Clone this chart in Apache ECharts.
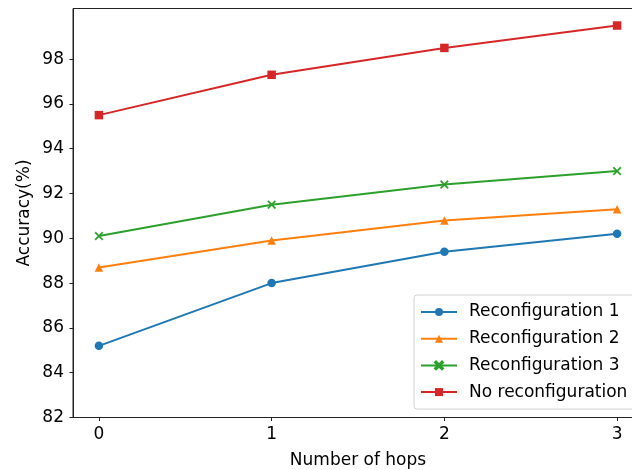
<!DOCTYPE html>
<html>
<head>
<meta charset="utf-8">
<script src="https://cdn.jsdelivr.net/npm/echarts@6/dist/echarts.min.js"></script>
<style>
html,body{margin:0;padding:0;background:#fff;}
#chart{width:632px;height:470px;}
</style>
</head>
<body>
<div id="chart"></div>
<script>
var hops = [0, 1, 2, 3];
var xTicks = [0, 1, 2, 3];
var yTicks = [82, 84, 86, 88, 90, 92, 94, 96, 98];
var seriesNames = ['Reconfiguration 1', 'Reconfiguration 2', 'Reconfiguration 3', 'No reconfiguration'];
var reconf1 = [85.2, 88.0, 89.4, 90.2];
var reconf2 = [88.7, 89.9, 90.8, 91.3];
var reconf3 = [90.1, 91.5, 92.4, 93.0];
var noReconf = [95.5, 97.3, 98.5, 99.5];

var colors = ['#1f77b4', '#ff7f0e', '#2ca02c', '#d62728'];
var symbols = ['circle', 'triangle',
  'path://M0,1.3L1.3,0L5,3.7L8.7,0L10,1.3L6.3,5L10,8.7L8.7,10L5,6.3L1.3,10L0,8.7L3.7,5Z',
  'rect'];
var values = [reconf1, reconf2, reconf3, noReconf];

function pairs(ys) { return hops.map(function (x, i) { return [x, ys[i]]; }); }

var font = 'DejaVu Sans';
var fs = 17;
var chart = echarts.init(document.getElementById('chart'), null, {renderer: 'canvas'});
chart.setOption({
  animation: false,
  backgroundColor: '#fff',
  grid: {left: 73, top: 8.5, width: 570, height: 409, show: true, borderColor: '#222', borderWidth: 1,
         backgroundColor: 'transparent', containLabel: false, outerBoundsMode: 'none'},
  xAxis: {
    type: 'value', min: -0.15, max: 3.15,
    name: 'Number of hops', nameLocation: 'middle', nameGap: 35,
    nameTextStyle: {fontFamily: font, fontSize: fs, color: '#000'},
    axisLine: {show: true, onZero: false, lineStyle: {color: '#222', width: 1}},
    axisTick: {show: true, length: 3.5, inside: false, customValues: xTicks, lineStyle: {color: '#222', width: 1}},
    axisLabel: {customValues: xTicks, margin: 9, fontFamily: font, fontSize: fs, color: '#000'},
    splitLine: {show: false}
  },
  yAxis: {
    type: 'value', min: 82, max: 100.26,
    name: 'Accuracy(%)', nameLocation: 'middle', nameGap: 40, nameMoveOverlap: false,
    nameTextStyle: {fontFamily: font, fontSize: fs, color: '#000'},
    axisLine: {show: true, onZero: false, lineStyle: {color: '#222', width: 1}},
    axisTick: {show: true, length: 3.5, inside: false, customValues: yTicks, lineStyle: {color: '#222', width: 1}},
    axisLabel: {customValues: yTicks, margin: 9, fontFamily: font, fontSize: fs, color: '#000'},
    splitLine: {show: false}
  },
  legend: {
    orient: 'vertical', left: 414, top: 295,
    data: seriesNames,
    itemWidth: 36, itemHeight: 10, itemGap: 9.7,
    padding: [8.5, 8, 8.5, 6],
    backgroundColor: 'rgba(255,255,255,0.8)', borderColor: '#d0d0d0', borderWidth: 1, borderRadius: 3,
    textStyle: {fontFamily: font, fontSize: fs, color: '#000', padding: [0, 0, 0, 7]}
  },
  series: seriesNames.map(function (name, i) {
    return {
      name: name, type: 'line', data: pairs(values[i]),
      symbol: symbols[i], symbolSize: 8.5, showSymbol: true,
      color: colors[i],
      lineStyle: {color: colors[i], width: 2},
      itemStyle: {color: colors[i], borderColor: colors[i], borderWidth: i === 2 ? 0.3 : 0},
      emphasis: {disabled: true}
    };
  })
});
</script>
</body>
</html>
